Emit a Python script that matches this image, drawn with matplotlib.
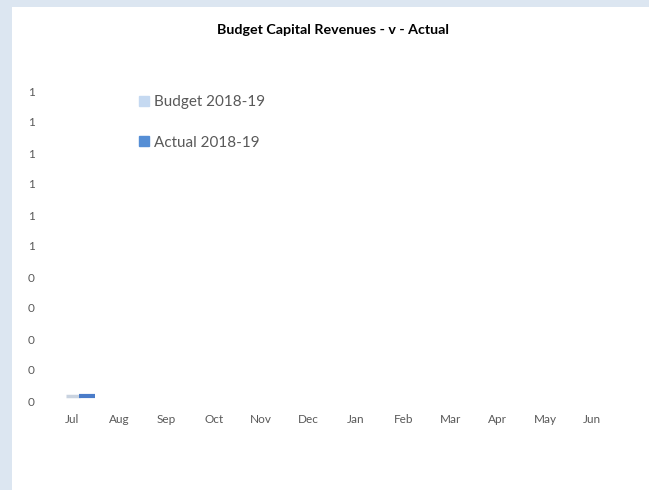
import numpy as np
import matplotlib.pyplot as plt
from matplotlib.patches import Rectangle

# data
months = ['Jul', 'Aug', 'Sep', 'Oct', 'Nov', 'Dec', 'Jan', 'Feb', 'Mar', 'Apr', 'May', 'Jun']
budget = [0, np.nan, np.nan, np.nan, np.nan, np.nan, np.nan, np.nan, np.nan, np.nan, np.nan, np.nan]
actual = [0, np.nan, np.nan, np.nan, np.nan, np.nan, np.nan, np.nan, np.nan, np.nan, np.nan, np.nan]
yticks = [0, 0.1, 0.2, 0.3, 0.4, 0.5, 0.6, 0.7, 0.8, 0.9, 1.0]
ylabels = ['0', '0', '0', '0', '0', '1', '1', '1', '1', '1', '1']

plt.rcParams['font.family'] = ['Lato', 'DejaVu Sans']

fig = plt.figure(figsize=(6.49, 4.9), dpi=100)
fig.patch.set_facecolor('#dce6f1')
# white chart area
fig.patches.append(Rectangle((12 / 649, 0), 1, 1 - 7 / 490, transform=fig.transFigure,
                             facecolor='white', edgecolor='none', zorder=-10))

ax = fig.add_axes([48.4 / 649, 89 / 490, 567.6 / 649, 310 / 490])
ax.set_facecolor('none')

x = np.arange(len(months))
# flat 3d-ish slivers, values are zero
b1 = ax.bar(x + 0.02, budget, width=0.3, bottom=0.015, color='#c9d3e0', edgecolor='#c9d3e0', linewidth=2.5)
b2 = ax.bar(x + 0.32, actual, width=0.34, bottom=0.015, color='#4a7cc9', edgecolor='#4a7cc9', linewidth=3)

ax.set_xlim(-0.5, len(months) - 0.5)
ax.set_ylim(0, 1)
ax.set_xticks(x)
ax.set_xticklabels(months)
ax.set_yticks(yticks)
ax.set_yticklabels(ylabels)
ax.tick_params(axis='both', length=0, colors='#595959', labelsize=8.5)
ax.tick_params(axis='x', pad=9)
ax.tick_params(axis='y', pad=10)
for s in ax.spines.values():
    s.set_visible(False)

fig.text(333 / 649, 1 - 30 / 490, 'Budget Capital Revenues - v - Actual', ha='center', va='center',
         fontsize=10.3, fontweight='bold', color='black')

h1 = Rectangle((0, 0), 1, 1, color='#c5d9f1')
h2 = Rectangle((0, 0), 1, 1, color='#558ed5')
ax.legend([h1, h2], ['Budget 2018-19', 'Actual 2018-19'], loc='upper left',
          bbox_to_anchor=(139 / 649, 1 - 95 / 490), bbox_transform=fig.transFigure,
          frameon=False, fontsize=11, labelcolor='#595959', handlelength=0.65,
          handleheight=0.65, handletextpad=0.3, labelspacing=1.75, borderpad=0, borderaxespad=0)

plt.savefig('out.png', dpi=100, facecolor=fig.get_facecolor())
